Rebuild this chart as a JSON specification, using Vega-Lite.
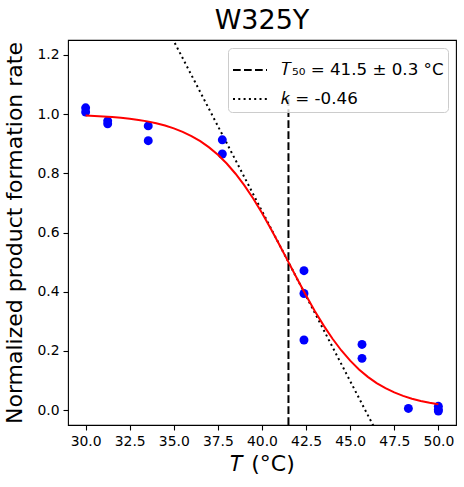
{
  "$schema": "https://vega.github.io/schema/vega-lite/v6.json",
  "autosize": {"type": "none"},
  "padding": {"left": 68, "top": 40, "right": 8, "bottom": 62},
  "width": 388,
  "height": 385,
  "config": {
    "font": "DejaVu Sans",
    "view": {"stroke": "black", "strokeWidth": 1.1},
    "axis": {
      "grid": false,
      "domain": false,
      "tickColor": "black",
      "tickSize": 5,
      "tickWidth": 1.1,
      "labelColor": "black",
      "labelFontSize": 13.9,
      "labelFont": "DejaVu Sans",
      "titleFont": "DejaVu Sans",
      "titleFontSize": 22,
      "titleFontWeight": "normal",
      "titleColor": "black",
      "labelPadding": 4
    }
  },
  "title": {
    "text": "W325Y",
    "fontSize": 27,
    "fontWeight": "normal",
    "font": "DejaVu Sans",
    "color": "black",
    "offset": 5
  },
  "datasets": {
    "points": [
      {"T": 30.0, "rate": 1.021},
      {"T": 30.0, "rate": 1.007},
      {"T": 31.25, "rate": 0.977},
      {"T": 31.25, "rate": 0.967},
      {"T": 33.55, "rate": 0.96},
      {"T": 33.55, "rate": 0.91},
      {"T": 37.75, "rate": 0.913},
      {"T": 37.75, "rate": 0.865},
      {"T": 42.38, "rate": 0.471},
      {"T": 42.38, "rate": 0.394},
      {"T": 42.38, "rate": 0.237},
      {"T": 45.67, "rate": 0.222},
      {"T": 45.67, "rate": 0.175},
      {"T": 48.3, "rate": 0.006},
      {"T": 50.0, "rate": 0.013},
      {"T": 50.0, "rate": 0.002},
      {"T": 50.0, "rate": -0.003}
    ],
    "fit": [
      {"T": 30.0, "rate": 0.9949},
      {"T": 30.5, "rate": 0.9936},
      {"T": 31.0, "rate": 0.992},
      {"T": 31.5, "rate": 0.9899},
      {"T": 32.0, "rate": 0.9874},
      {"T": 32.5, "rate": 0.9841},
      {"T": 33.0, "rate": 0.9801},
      {"T": 33.5, "rate": 0.9752},
      {"T": 34.0, "rate": 0.9689},
      {"T": 34.5, "rate": 0.9612},
      {"T": 35.0, "rate": 0.9517},
      {"T": 35.5, "rate": 0.94},
      {"T": 36.0, "rate": 0.9257},
      {"T": 36.5, "rate": 0.9083},
      {"T": 37.0, "rate": 0.8874},
      {"T": 37.5, "rate": 0.8624},
      {"T": 38.0, "rate": 0.8328},
      {"T": 38.5, "rate": 0.7984},
      {"T": 39.0, "rate": 0.759},
      {"T": 39.5, "rate": 0.7146},
      {"T": 40.0, "rate": 0.6656},
      {"T": 40.5, "rate": 0.6127},
      {"T": 41.0, "rate": 0.5571},
      {"T": 41.5, "rate": 0.5},
      {"T": 42.0, "rate": 0.4429},
      {"T": 42.5, "rate": 0.3873},
      {"T": 43.0, "rate": 0.3344},
      {"T": 43.5, "rate": 0.2855},
      {"T": 44.0, "rate": 0.2411},
      {"T": 44.5, "rate": 0.2016},
      {"T": 45.0, "rate": 0.1672},
      {"T": 45.5, "rate": 0.1376},
      {"T": 46.0, "rate": 0.1126},
      {"T": 46.5, "rate": 0.0916},
      {"T": 47.0, "rate": 0.0743},
      {"T": 47.5, "rate": 0.06},
      {"T": 48.0, "rate": 0.0483},
      {"T": 48.5, "rate": 0.0388},
      {"T": 49.0, "rate": 0.0311},
      {"T": 49.5, "rate": 0.0249},
      {"T": 50.0, "rate": 0.0199}
    ],
    "t50": [
      {"T": 41.5, "low": -0.05, "high": 1.05, "label": "𝑇₅₀ = 41.5 ± 0.3 °C"}
    ],
    "slope": [
      {"T": 34.5, "rate": 1.3036, "label": "𝑘 = -0.46"},
      {"T": 47.0, "rate": -0.1314, "label": "𝑘 = -0.46"}
    ]
  },
  "encoding": {
    "x": {
      "field": "T",
      "type": "quantitative",
      "scale": {"domain": [29, 51], "nice": false, "zero": false},
      "axis": {"values": [30, 32.5, 35, 37.5, 40, 42.5, 45, 47.5, 50], "format": ".1f", "title": "𝑇 (°C)", "titlePadding": 6}
    },
    "y": {
      "field": "rate",
      "type": "quantitative",
      "scale": {"domain": [-0.05, 1.25], "nice": false, "zero": false},
      "axis": {"values": [0, 0.2, 0.4, 0.6, 0.8, 1.0, 1.2], "format": ".1f", "title": "Normalized product formation rate", "titlePadding": 10}
    }
  },
  "layer": [
    {
      "data": {"name": "t50"},
      "mark": {"type": "rule", "color": "black", "strokeWidth": 2},
      "encoding": {
        "y": {"field": "low", "type": "quantitative"},
        "y2": {"field": "high"},
        "strokeDash": {
          "field": "label",
          "type": "nominal",
          "scale": {
            "domain": ["𝑇₅₀ = 41.5 ± 0.3 °C", "𝑘 = -0.46"],
            "range": [[7.7, 3.3], [2, 3.3]]
          },
          "legend": {
            "title": null,
            "orient": "top-right",
            "offset": 8,
            "padding": 4,
            "fillColor": "rgba(255,255,255,0.8)",
            "strokeColor": "#cccccc",
            "cornerRadius": 4,
            "labelFontSize": 16.7,
            "labelFont": "DejaVu Sans",
            "labelColor": "black",
            "labelOffset": 13,
            "symbolType": "stroke",
            "symbolSize": 1156,
            "symbolStrokeWidth": 2,
            "symbolStrokeColor": "black",
            "rowPadding": 2,
            "labelLimit": 300
          }
        }
      }
    },
    {
      "data": {"name": "slope"},
      "mark": {"type": "line", "color": "black", "strokeWidth": 2, "clip": true},
      "encoding": {
        "strokeDash": {"field": "label", "type": "nominal"}
      }
    },
    {
      "data": {"name": "points"},
      "mark": {"type": "circle", "color": "#0000ff", "size": 80, "opacity": 1}
    },
    {
      "data": {"name": "fit"},
      "mark": {"type": "line", "color": "#ff0000", "strokeWidth": 2}
    }
  ]
}
